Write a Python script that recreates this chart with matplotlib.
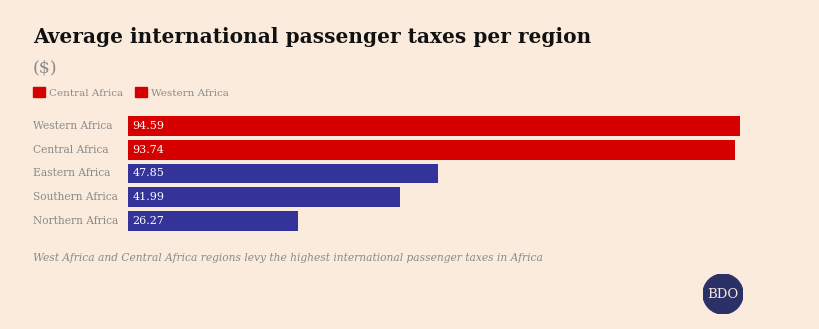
import matplotlib.pyplot as plt
from matplotlib.patches import Patch, Circle

regions = ['Western Africa', 'Central Africa', 'Eastern Africa', 'Southern Africa', 'Northern Africa']
taxes = [94.59, 93.74, 47.85, 41.99, 26.27]
highlight = ['Western Africa', 'Central Africa']
legend_labels = ['Central Africa', 'Western Africa']

bg = '#fbebdc'
red = '#d60000'
blue = '#333399'
grey = '#8a8a8a'
W, H = 819, 329

plt.rcParams['font.family'] = ['DejaVu Serif']

fig = plt.figure(figsize=(W / 100, H / 100), dpi=100, facecolor=bg)

# bar area in pixel coordinates
x0, x1 = 128, 740
y_top, y_bot = 114, 233
ax = fig.add_axes([x0 / W, 1 - y_bot / H, (x1 - x0) / W, (y_bot - y_top) / H])
ax.set_facecolor(bg)

colors = [red if r in highlight else blue for r in regions]
pos = list(range(len(regions)))
ax.barh(pos, taxes, height=0.84, color=colors)
ax.set_xlim(0, max(taxes))
ax.set_ylim(len(regions) - 0.5, -0.5)
ax.axis('off')

units_per_px = max(taxes) / (x1 - x0)
for i, (r, v) in enumerate(zip(regions, taxes)):
    ax.text(4.5 * units_per_px, i, f'{v:.2f}', color='white', fontsize=8, va='center', ha='left')
    ax.text(-95 * units_per_px, i, r, color=grey, fontsize=7.7, va='center', ha='left')

fig.text(33 / W, 1 - 37 / H, 'Average international passenger taxes per region',
         fontsize=14.5, fontweight='bold', color='#111111', va='center', ha='left')
fig.text(33 / W, 1 - 68 / H, '($)', fontsize=12.5, color=grey, va='center', ha='left')

handles = [Patch(color=red) for _ in legend_labels]
fig.legend(handles, legend_labels, loc='upper left', bbox_to_anchor=(33 / W, 1 - 87 / H),
           ncol=2, frameon=False, fontsize=7.5, handlelength=1.15, handleheight=1.15,
           handletextpad=0.4, columnspacing=1.1, borderpad=0, borderaxespad=0,
           labelcolor=grey)

fig.text(33 / W, 1 - 258 / H,
         'West Africa and Central Africa regions levy the highest international passenger taxes in Africa',
         fontsize=7.65, fontstyle='italic', color=grey, va='center', ha='left')

# logo
lax = fig.add_axes([703 / W, 1 - 314 / H, 40 / W, 40 / H])
lax.set_xlim(0, 1)
lax.set_ylim(0, 1)
lax.set_aspect('equal')
lax.axis('off')
lax.add_patch(Circle((0.5, 0.5), 0.5, color='#2b3167'))
lax.text(0.5, 0.5, 'BDO', color='#f1e6da', fontsize=9.5, ha='center', va='center')

fig.savefig('out.png', dpi=100, facecolor=bg)
